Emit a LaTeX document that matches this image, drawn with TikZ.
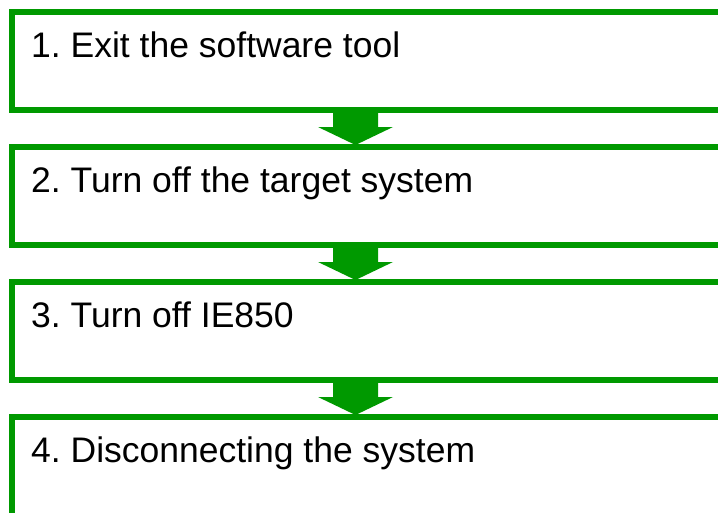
\documentclass[tikz,border=0pt]{standalone}
\usepackage{fontspec}
\setmainfont{Liberation Sans}
\usetikzlibrary{calc}
\definecolor{stepgreen}{RGB}{0,153,0}
\frenchspacing
\tikzset{
  stepbox/.style={draw=stepgreen, line width=6pt, rectangle, minimum width=740pt, minimum height=98pt, anchor=north west, outer sep=0pt, inner sep=0pt},
  steptext/.style={anchor=base west, inner sep=0pt, font=\fontsize{35.5pt}{40pt}\selectfont, text=black},
  steparrow/.style={fill=stepgreen, draw=none}
}
\begin{document}
\begin{tikzpicture}[x=1pt,y=-1pt]
\useasboundingbox (0,0) rectangle (718,512);
\clip (0,0) rectangle (718,512);
\node[stepbox] (b1) at (12,12) {};
\node[stepbox] (b2) at (12,147) {};
\node[stepbox] (b3) at (12,282) {};
\node[stepbox, minimum height=120pt] (b4) at (12,417) {};
\node[steptext] (t1) at ($(b1.north west)+(19,45)$) {1. Exit the software tool};
\node[steptext] (t2) at ($(b2.north west)+(19,45)$) {2. Turn off the target system};
\node[steptext] (t3) at ($(b3.north west)+(19,45)$) {3. Turn off IE850};
\node[steptext] (t4) at ($(b4.north west)+(19,45)$) {4. Disconnecting the system};
\foreach \a/\b in {b1/b2,b2/b3,b3/b4}{
  \fill[steparrow] let \p1=(\a.south west), \p2=(\b.north west) in
    (333pt,\y1-3pt) -- (378pt,\y1-3pt) -- (378pt,\y1-17pt) -- (393pt,\y1-17pt)
    -- (355.5pt,\y2+2pt) -- (318pt,\y1-17pt) -- (333pt,\y1-17pt) -- cycle;
}
\end{tikzpicture}
\end{document}
